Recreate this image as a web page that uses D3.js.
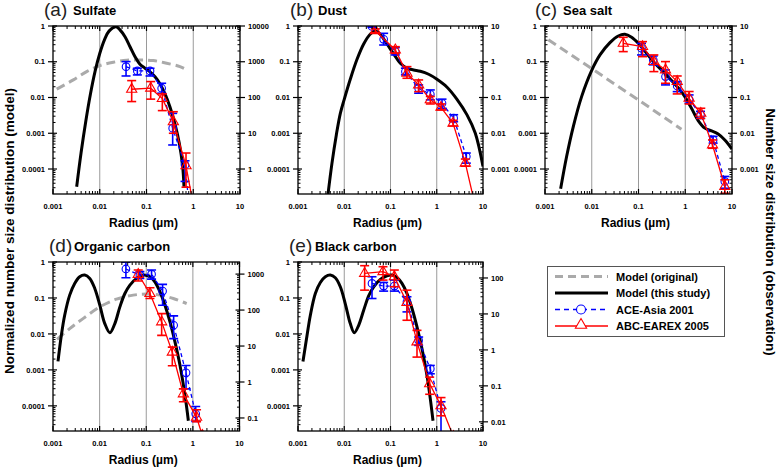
<!DOCTYPE html>
<html><head><meta charset="utf-8">
<script src="https://cdn.jsdelivr.net/npm/d3@7/dist/d3.min.js"></script>
<style>body{margin:0;background:#fff}svg{display:block}text{font-family:"Liberation Sans",Arial,sans-serif}</style>
</head><body>
<svg id="chart" width="778" height="467"></svg>
<script>
// ---------------- data ----------------
const radiusTicks = [0.001, 0.01, 0.1, 1, 10];
const radiusTickLabels = ["0.001", "0.01", "0.1", "1", "10"];
const gridRadii = [0.01, 0.1, 1];
const leftTicks = [1, 0.1, 0.01, 0.001, 0.0001];
const leftTickLabels = ["1", "0.1", "0.01", "0.001", "0.0001"];
const leftDomain = [2e-5, 1];
const rightTicksA = [10000, 1000, 100, 10, 1];
const rightTicksB = [10, 1, 0.1, 0.01, 0.001];
const rightTicksC = [10, 1, 0.1, 0.01, 0.001];
const rightTicksD = [1000, 100, 10, 1, 0.1];
const rightTicksE = [100, 10, 1, 0.1, 0.01];
const rightTopA = 10000, rightTopB = 10, rightTopC = 10, rightTopD = 2170, rightTopE = 278;

// model curves: [radius µm, normalized number]
const sulfateModel = [[0.00321,3.2e-5],[0.00398,2.8e-4],[0.00501,2.1e-3],[0.00631,0.0123],[0.00794,0.0537],[0.0100,0.17],[0.0126,0.41],[0.0158,0.72],[0.0223,0.95],[0.0271,0.78],[0.0347,0.50],[0.0444,0.263],[0.0568,0.138],[0.0724,0.085],[0.0929,0.066],[0.119,0.052],[0.152,0.038],[0.195,0.024],[0.249,0.0126],[0.318,0.0054],[0.407,0.0018],[0.504,5.2e-4],[0.594,1.17e-4],[0.634,3.2e-5]];
const sulfateOrig = [[0.0012,0.0171],[0.00272,0.0311],[0.00525,0.0532],[0.0101,0.0782],[0.0195,0.0968],[0.0377,0.110],[0.0726,0.112],[0.140,0.108],[0.270,0.0908],[0.521,0.0733],[0.785,0.0566]];
const dustModel = [[0.00446,2.0e-5],[0.00543,1.46e-4],[0.00674,9.0e-4],[0.00823,0.0036],[0.01,0.0089],[0.0135,0.0324],[0.0189,0.117],[0.0263,0.314],[0.0367,0.598],[0.047,0.725],[0.0603,0.585],[0.084,0.314],[0.117,0.165],[0.163,0.0906],[0.227,0.0657],[0.317,0.059],[0.442,0.0542],[0.668,0.0447],[1.01,0.0324],[1.67,0.0194],[2.74,0.0089],[4.51,0.00327],[6.82,0.001],[10,1.18e-4]];
const seaSaltModel = [[0.00216,2.8e-5],[0.0029,2.24e-4],[0.00403,0.00154],[0.00607,0.0106],[0.00993,0.0565],[0.015,0.155],[0.0245,0.342],[0.0369,0.526],[0.0512,0.585],[0.0711,0.482],[0.0987,0.328],[0.149,0.172],[0.224,0.0906],[0.337,0.053],[0.509,0.0297],[0.767,0.0163],[0.98,0.0106],[1.36,0.005],[1.89,0.00227],[2.62,0.00139],[3.64,0.00117],[5.06,9.6e-4],[7.02,6.5e-4],[10,3.6e-4]];
const seaSaltOrig = [[0.00118,0.41],[0.01,0.064],[0.1,0.0085],[0.83,0.0013]];
const ocModel = [[0.00128,0.00172],[0.00151,0.00914],[0.00178,0.0331],[0.00228,0.12],[0.00292,0.254],[0.00374,0.389],[0.0048,0.433],[0.00615,0.35],[0.00787,0.184],[0.0101,0.063],[0.0129,0.0194],[0.0166,0.0108],[0.0212,0.0194],[0.0272,0.0565],[0.0348,0.133],[0.0446,0.228],[0.0619,0.35],[0.0861,0.433],[0.12,0.389],[0.153,0.282],[0.197,0.148],[0.252,0.063],[0.323,0.0216],[0.413,0.006],[0.53,0.00133],[0.679,1.93e-4],[0.8,3.86e-5]];
const ocOrig = [[0.00122,0.00706],[0.00228,0.014],[0.00441,0.0267],[0.0101,0.0565],[0.023,0.0925],[0.0525,0.12],[0.102,0.128],[0.197,0.12],[0.381,0.0966],[0.736,0.07]];
const bcModel = [[0.00128,0.00172],[0.00157,0.00914],[0.00185,0.0331],[0.00237,0.133],[0.00304,0.27],[0.0039,0.389],[0.005,0.433],[0.00641,0.365],[0.00822,0.205],[0.0105,0.07],[0.0135,0.0194],[0.0165,0.0108],[0.0205,0.0174],[0.0263,0.0456],[0.0337,0.115],[0.0433,0.205],[0.0603,0.328],[0.084,0.415],[0.108,0.433],[0.138,0.373],[0.177,0.254],[0.227,0.133],[0.292,0.0508],[0.374,0.0156],[0.48,0.00387],[0.615,6.98e-4],[0.726,1.56e-4],[0.83,3.86e-5]];

// observations: [radius µm, value, lower, upper]
const sulfateACE = [[0.0365,0.073,0.040,0.101],[0.0637,0.0553,0.0428,0.0657],[0.119,0.0553,0.040,0.0657],[0.211,0.0182,0.0132,0.025],[0.363,0.00139,4.7e-4,0.0036],[0.667,1.3e-4,4.5e-5,1.7e-4],[0.80,1.2e-5,1.2e-5,1.2e-5]];
const sulfateABC = [[0.0482,0.017,0.0077,0.0297],[0.123,0.0182,0.009,0.0279],[0.218,0.0093,0.0043,0.0126],[0.375,0.0021,0.001,0.004],[0.70,1.23e-4,3.1e-5,2.8e-4],[1.0,1.0e-5,1.0e-5,1.0e-5]];
const dustACE = [[0.0398,0.97,0.92,1.0],[0.0711,0.424,0.294,0.624],[0.127,0.192,0.155,0.249],[0.21,0.053,0.043,0.066],[0.406,0.0182,0.0132,0.0226],[0.726,0.0123,0.0086,0.0163],[1.30,0.0069,0.005,0.009],[2.32,0.00264,0.0021,0.0033],[4.36,2.24e-4,1.46e-4,2.8e-4]];
const dustABC = [[0.047,0.74,0.65,0.83],[0.127,0.214,0.172,0.264],[0.227,0.0476,0.0345,0.073],[0.406,0.0225,0.0146,0.031],[0.726,0.0086,0.0066,0.0107],[1.236,0.0053,0.0045,0.0066],[2.25,0.0019,0.0016,0.0023],[4.15,1.46e-4,1.2e-4,1.9e-4],[6.5,1.2e-5,1.2e-5,1.2e-5]];
const seaSaltACE = [[0.116,0.238,0.155,0.328],[0.207,0.112,0.082,0.145],[0.378,0.0385,0.0225,0.059],[0.673,0.0211,0.0146,0.028],[1.21,0.0089,0.0069,0.0118],[2.12,0.00327,0.0026,0.0041],[3.95,6.5e-4,5.3e-4,8.2e-4],[7.02,4.5e-5,2.9e-5,6.2e-5]];
const seaSaltABC = [[0.0472,0.328,0.192,0.482],[0.122,0.265,0.139,0.365],[0.213,0.101,0.053,0.155],[0.378,0.059,0.025,0.101],[0.673,0.0279,0.0126,0.040],[1.21,0.0095,0.0066,0.0147],[2.15,0.0036,0.0026,0.005],[3.83,4.7e-4,3.8e-4,6.5e-4],[7.02,3.25e-5,2.1e-5,5e-5]];
const ocACE = [[0.0366,0.64,0.365,0.98],[0.073,0.43,0.35,0.54],[0.13,0.46,0.335,0.6],[0.224,0.155,0.063,0.238],[0.387,0.0174,0.0074,0.0317],[0.713,8.3e-4,2.96e-4,0.00133],[1.15,6e-5,3.7e-5,9.6e-5]];
const ocABC = [[0.0673,0.452,0.295,0.6],[0.12,0.133,0.097,0.192],[0.214,0.0216,0.0091,0.0368],[0.362,0.0031,0.0013,0.0043],[0.625,2.15e-4,1.3e-4,2.96e-4],[1.2,4.8e-5,3.6e-5,7.8e-5],[1.6,1.5e-5,1.5e-5,1.5e-5]];
const bcACE = [[0.0398,0.254,0.0966,0.389],[0.0711,0.214,0.155,0.27],[0.121,0.214,0.155,0.314],[0.227,0.078,0.041,0.108],[0.406,0.0066,0.0048,0.0082],[0.726,0.00107,7.8e-4,0.00133],[1.236,8.5e-5,1e-5,1.3e-4]];
const bcABC = [[0.0276,0.482,0.165,0.79],[0.0689,0.537,0.314,0.74],[0.121,0.389,0.205,0.598],[0.227,0.0747,0.024,0.165],[0.374,0.006,0.00227,0.0126],[0.703,4.1e-4,2.1e-4,6.3e-4],[1.236,1.0e-4,5.3e-5,1.7e-4],[2.3,1.4e-5,1.4e-5,1.4e-5]];

const legendLabels = ["Model (original)", "Model (this study)", "ACE-Asia 2001", "ABC-EAREX 2005"];

// ---------------- drawing ----------------
const svg = d3.select("#chart");
const BLUE = "#0000ff", RED = "#ff0000", GRAY = "#aaaaaa";

const panels = [
  {tag:"(a)", title:"Sulfate", model:sulfateModel, orig:sulfateOrig, ace:sulfateACE, abc:sulfateABC, rTicks:rightTicksA, rTop:rightTopA, x0:53, x1:240, y0:26, y1:194, tx:44, ttx:73, ty:16},
  {tag:"(b)", title:"Dust", model:dustModel, orig:null, ace:dustACE, abc:dustABC, rTicks:rightTicksB, rTop:rightTopB, x0:298, x1:483, y0:26, y1:194, tx:290, ttx:318, ty:16},
  {tag:"(c)", title:"Sea salt", model:seaSaltModel, orig:seaSaltOrig, ace:seaSaltACE, abc:seaSaltABC, rTicks:rightTicksC, rTop:rightTopC, x0:545, x1:732, y0:26, y1:194, tx:535, ttx:563, ty:16},
  {tag:"(d)", title:"Organic carbon", model:ocModel, orig:ocOrig, ace:ocACE, abc:ocABC, rTicks:rightTicksD, rTop:rightTopD, x0:53, x1:239.5, y0:262, y1:431, tx:49, ttx:74, ty:252},
  {tag:"(e)", title:"Black carbon", model:bcModel, orig:null, ace:bcACE, abc:bcABC, rTicks:rightTicksE, rTop:rightTopE, x0:298, x1:483, y0:262, y1:431, tx:289, ttx:315, ty:252}
];

function minorTicks(lo, hi) {
  const out = [];
  for (let e = Math.floor(Math.log10(lo)) - 1; e <= Math.ceil(Math.log10(hi)); e++) {
    for (let k = 2; k <= 9; k++) {
      const v = k * Math.pow(10, e);
      if (v > lo * 1.0001 && v < hi * 0.9999) out.push(v);
    }
  }
  return out;
}

panels.forEach((p, i) => {
  const g = svg.append("g");
  const x = d3.scaleLog().domain([0.001, 10]).range([p.x0, p.x1]);
  const y = d3.scaleLog().domain(leftDomain).range([p.y1, p.y0]);
  const yr = d3.scaleLog().domain([leftDomain[0] * p.rTop, p.rTop]).range([p.y1, p.y0]);

  const clipId = "clip" + i;
  svg.append("clipPath").attr("id", clipId).append("rect")
    .attr("x", p.x0).attr("y", p.y0).attr("width", p.x1 - p.x0).attr("height", p.y1 - p.y0);

  // grid
  g.selectAll(".grid").data(gridRadii).enter().append("line")
    .attr("x1", d => x(d)).attr("x2", d => x(d)).attr("y1", p.y0).attr("y2", p.y1)
    .attr("stroke", "#9a9a9a").attr("stroke-width", 1);

  const data = g.append("g").attr("clip-path", `url(#${clipId})`);
  const line = d3.line().x(d => x(d[0])).y(d => y(d[1]));
  const smooth = d3.line().x(d => x(d[0])).y(d => y(d[1])).curve(d3.curveCatmullRom.alpha(0.5));

  if (p.orig) data.append("path").attr("d", (p.orig.length > 4 ? smooth : line)(p.orig))
    .attr("fill", "none").attr("stroke", GRAY).attr("stroke-width", 3).attr("stroke-dasharray", "9,5");
  data.append("path").attr("d", smooth(p.model)).attr("fill", "none")
    .attr("stroke", "#000").attr("stroke-width", 3).attr("stroke-linejoin", "round");

  function obs(arr, color, dash, marker) {
    data.append("path").attr("d", line(arr)).attr("fill", "none").attr("stroke", color)
      .attr("stroke-width", 1.3).attr("stroke-dasharray", dash);
    arr.forEach(d => {
      if (d[2] === d[3]) return;
      const cx = x(d[0]);
      data.append("line").attr("x1", cx).attr("x2", cx).attr("y1", y(d[2])).attr("y2", y(d[3]))
        .attr("stroke", color).attr("stroke-width", 1.6);
      [d[2], d[3]].forEach(v => data.append("line").attr("x1", cx - 4.5).attr("x2", cx + 4.5)
        .attr("y1", y(v)).attr("y2", y(v)).attr("stroke", color).attr("stroke-width", 1.6));
    });
    arr.forEach(d => {
      if (marker === "circle") {
        data.append("circle").attr("cx", x(d[0])).attr("cy", y(d[1])).attr("r", 3.8)
          .attr("fill", "none").attr("stroke", color).attr("stroke-width", 1.1);
      } else {
        data.append("path").attr("d", d3.symbol().type(d3.symbolTriangle).size(45)())
          .attr("transform", `translate(${x(d[0])},${y(d[1])})`)
          .attr("fill", "none").attr("stroke", color).attr("stroke-width", 1.1);
      }
    });
  }
  obs(p.ace, BLUE, "4,3", "circle");
  obs(p.abc, RED, null, "triangle");

  // frame
  g.append("rect").attr("x", p.x0).attr("y", p.y0).attr("width", p.x1 - p.x0).attr("height", p.y1 - p.y0)
    .attr("fill", "none").attr("stroke", "#000").attr("stroke-width", 1.3);

  // x ticks (bottom & top, inward)
  const xmin = minorTicks(0.001, 10);
  [[p.y1, -1], [p.y0, 1]].forEach(([yy, dir]) => {
    g.selectAll(null).data(radiusTicks).enter().append("line")
      .attr("x1", d => x(d)).attr("x2", d => x(d)).attr("y1", yy).attr("y2", yy + dir * 5)
      .attr("stroke", "#000").attr("stroke-width", 1.2);
    g.selectAll(null).data(xmin).enter().append("line")
      .attr("x1", d => x(d)).attr("x2", d => x(d)).attr("y1", yy).attr("y2", yy + dir * 3)
      .attr("stroke", "#000").attr("stroke-width", 1);
  });
  g.selectAll(null).data(radiusTicks).enter().append("text")
    .attr("x", d => x(d)).attr("y", p.y1 + 15).attr("text-anchor", "middle")
    .attr("font-size", 7.5).attr("font-weight", "bold").text((d, k) => radiusTickLabels[k]);

  // left axis ticks
  g.selectAll(null).data(leftTicks).enter().append("line")
    .attr("x1", p.x0 - 5).attr("x2", p.x0 + 4).attr("y1", d => y(d)).attr("y2", d => y(d))
    .attr("stroke", "#000").attr("stroke-width", 1.2);
  g.selectAll(null).data(minorTicks(leftDomain[0], leftDomain[1])).enter().append("line")
    .attr("x1", p.x0).attr("x2", p.x0 + 2.5).attr("y1", d => y(d)).attr("y2", d => y(d))
    .attr("stroke", "#000").attr("stroke-width", 1);
  g.selectAll(null).data(leftTicks).enter().append("text")
    .attr("x", p.x0 - 8).attr("y", d => y(d) + 2.7).attr("text-anchor", "end")
    .attr("font-size", 7.5).attr("font-weight", "bold").text((d, k) => leftTickLabels[k]);

  // right axis ticks
  g.selectAll(null).data(p.rTicks).enter().append("line")
    .attr("x1", p.x1 - 4).attr("x2", p.x1 + 5).attr("y1", d => yr(d)).attr("y2", d => yr(d))
    .attr("stroke", "#000").attr("stroke-width", 1.2);
  g.selectAll(null).data(minorTicks(leftDomain[0] * p.rTop, p.rTop)).enter().append("line")
    .attr("x1", p.x1 - 2.5).attr("x2", p.x1).attr("y1", d => yr(d)).attr("y2", d => yr(d))
    .attr("stroke", "#000").attr("stroke-width", 1);
  g.selectAll(null).data(p.rTicks).enter().append("text")
    .attr("x", p.x1 + 8).attr("y", d => yr(d) + 2.7).attr("text-anchor", "start")
    .attr("font-size", 7.5).attr("font-weight", "bold").text(d => String(d));

  // titles
  g.append("text").attr("x", p.tx).attr("y", p.ty).attr("font-size", 19).attr("fill", "#222").text(p.tag);
  g.append("text").attr("x", p.ttx).attr("y", p.ty - 1).attr("font-size", 13).attr("font-weight", "bold").text(p.title);
  g.append("text").attr("x", (p.x0 + p.x1) / 2 - 3).attr("y", p.y1 + 33).attr("text-anchor", "middle")
    .attr("font-size", 12).attr("font-weight", "bold").text("Radius (µm)");
});

// axis titles
svg.append("text").attr("transform", "translate(14,231) rotate(-90)").attr("text-anchor", "middle")
  .attr("font-size", 13.5).attr("font-weight", "bold").text("Normalized number size distribution (model)");
svg.append("text").attr("transform", "translate(766,232) rotate(90)").attr("text-anchor", "middle")
  .attr("font-size", 13.5).attr("font-weight", "bold").text("Number size distribution (observation)");

// legend
const lg = svg.append("g");
lg.append("rect").attr("x", 547.5).attr("y", 266.5).attr("width", 177).attr("height", 70)
  .attr("fill", "#fff").attr("stroke", "#555").attr("stroke-width", 1);
const rowsY = [276.5, 293, 309.5, 326];
const styles = [
  {c: GRAY, w: 3, dash: "8,5"}, {c: "#000", w: 3, dash: null},
  {c: BLUE, w: 1.3, dash: "5,4"}, {c: RED, w: 1.3, dash: null}
];
legendLabels.forEach((t, k) => {
  const yy = rowsY[k];
  lg.append("line").attr("x1", 555).attr("x2", 608).attr("y1", yy).attr("y2", yy)
    .attr("stroke", styles[k].c).attr("stroke-width", styles[k].w).attr("stroke-dasharray", styles[k].dash);
  if (k === 2) lg.append("circle").attr("cx", 581).attr("cy", yy).attr("r", 4.5)
    .attr("fill", "#fff").attr("stroke", BLUE).attr("stroke-width", 1.1);
  if (k === 3) lg.append("path").attr("d", d3.symbol().type(d3.symbolTriangle).size(55)())
    .attr("transform", `translate(581,${yy - 1})`).attr("fill", "#fff").attr("stroke", RED).attr("stroke-width", 1.1);
  lg.append("text").attr("x", 616).attr("y", yy + 4).attr("font-size", 11).attr("font-weight", "bold").text(t);
});
</script>
</body></html>
